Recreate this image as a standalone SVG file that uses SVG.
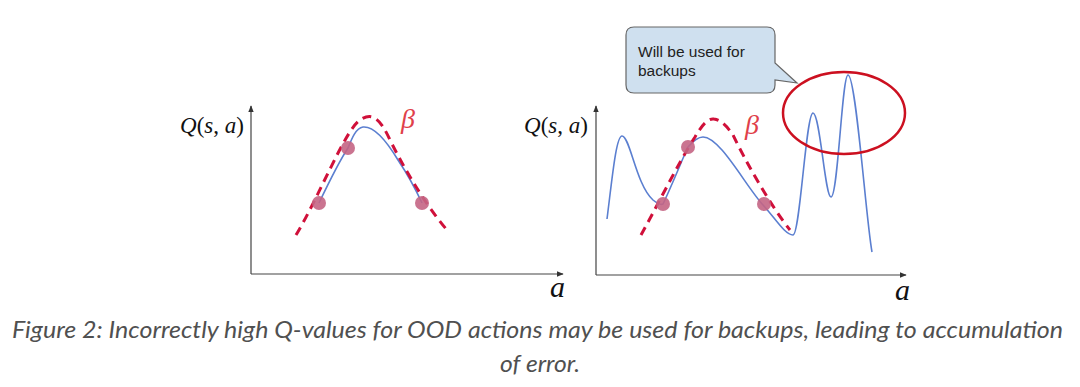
<svg xmlns="http://www.w3.org/2000/svg" width="1080" height="387" viewBox="0 0 1080 387">
<defs>
<marker id="arr" viewBox="0 0 10 10" refX="9" refY="5" markerWidth="7" markerHeight="7" orient="auto" markerUnits="userSpaceOnUse">
<path d="M0,1 L10,5 L0,9 z" fill="#333"/>
</marker>
</defs>
<style>
.axis{stroke:#444;stroke-width:1.2;fill:none}
.q{stroke:#5b7fd0;stroke-width:1.6;fill:none}
.beta{stroke:#d0103a;stroke-width:3;stroke-dasharray:9 6;fill:none}
.dot{fill:#c46584;opacity:0.9}
.math{font-family:"Liberation Serif","DejaVu Serif",serif;font-size:23px;fill:#111}
.it{font-style:italic}
.xa{font-family:"Liberation Serif","DejaVu Serif",serif;font-style:italic;font-size:30px;fill:#111}
.greek{font-family:"Liberation Serif","DejaVu Serif",serif;font-style:italic;font-size:28px;fill:#e0404a}
.cap{font-family:Lato,"Open Sans",sans-serif;font-style:italic;font-size:23px;fill:#505050}
.callout{font-family:"Liberation Sans",Arial,sans-serif;font-size:15.5px;fill:#222}
</style>
<rect width="1080" height="387" fill="#fff"/>

<g id="left-plot">
<line class="axis" x1="251" y1="274" x2="251" y2="106" marker-end="url(#arr)"/>
<line class="axis" x1="251" y1="274" x2="563" y2="274" marker-end="url(#arr)"/>
<text class="math" x="180" y="133"><tspan class="it">Q</tspan>(<tspan class="it">s</tspan>, <tspan class="it">a</tspan>)</text>
<text class="xa" x="550" y="297">a</text>
<path class="q" d="M319,203 C330,180 340,160 348,148 C352,138 356,128 363,127 C373,126 386,140 398,160 C408,175 416,190 422,203"/>
<path class="beta" d="M296,235 C320,195 345,130 360,120 C372,112 380,118 390,140 C410,180 430,210 447,230"/>
<circle class="dot" cx="319" cy="203" r="7"/>
<circle class="dot" cx="348" cy="148" r="7"/>
<circle class="dot" cx="422" cy="203" r="7"/>
<text class="greek" x="401" y="128">β</text>
</g>

<g id="right-plot">
<line class="axis" x1="596" y1="275" x2="596" y2="106" marker-end="url(#arr)"/>
<line class="axis" x1="596" y1="275" x2="906" y2="275" marker-end="url(#arr)"/>
<text class="math" x="524" y="133"><tspan class="it">Q</tspan>(<tspan class="it">s</tspan>, <tspan class="it">a</tspan>)</text>
<text class="xa" x="895" y="300">a</text>
<path class="q" d="M607,219 C612,180 616,136 622,136 C630,136 636,185 653,200 C658,204 661,205 663,204 C672,185 682,160 688,147 C694,140 698,137 703,137 C720,137 745,185 763,205 C775,218 785,235 793,235 C800,235 806,113 813,113 C820,113 825,197 831,197 C838,197 842,75 848,75 C856,75 866,220 872,252"/>
<path class="beta" d="M641,235 C655,210 680,160 695,137 C702,125 708,118 714,119 C722,120 728,128 733,135 C745,160 770,205 790,230"/>
<circle class="dot" cx="663" cy="204" r="7"/>
<circle class="dot" cx="688" cy="147" r="7"/>
<circle class="dot" cx="764" cy="204" r="7"/>
<text class="greek" x="745" y="134">β</text>
<ellipse cx="844" cy="113" rx="61" ry="41" fill="none" stroke="#cc1020" stroke-width="2.5"/>
</g>

<g id="callout">
<path d="M634,27 H767 Q775,27 775,35 V63 L797,83 L775,80 V85 Q775,93 767,93 H634 Q626,93 626,85 V35 Q626,27 634,27 Z" fill="#cfe0ef" stroke="#666" stroke-width="1.2"/>
<text class="callout" x="638" y="57">Will be used for</text>
<text class="callout" x="638" y="76">backups</text>
</g>

<g id="caption">
<text class="cap" x="12" y="338" textLength="1051" lengthAdjust="spacingAndGlyphs">Figure 2: Incorrectly high Q-values for OOD actions may be used for backups, leading to accumulation</text>
<text class="cap" x="540" y="372" text-anchor="middle" textLength="80" lengthAdjust="spacingAndGlyphs">of error.</text>
</g>
</svg>
